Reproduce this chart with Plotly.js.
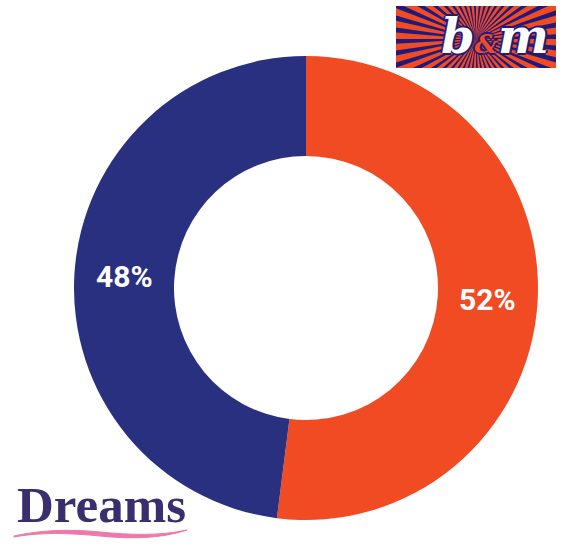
<!DOCTYPE html>
<html>
<head>
<meta charset="utf-8">
<script src="https://cdn.plot.ly/plotly-3.0.1.min.js"></script>
<style>html,body{margin:0;padding:0;background:#fff;}#chart{width:566px;height:545px;}</style>
</head>
<body>
<div id="chart"></div>
<script>
// Data
const brands = ['B&M', 'Dreams'];
const shares = [52, 48];
const colors = ['#F04B23', '#2A3080'];

const W = 566, H = 545;
// Pie geometry (pixel frame used by hidden full-page axis)
const pieCx = 306, pieCy = 288, outerR = 232, holeFrac = 0.569;

// Decoration: b&m logo rays (x2/y2 coords, clipped to logo box)
const rayShapes = [];
const nRays = 44;
const cx = 80, cy = 33, R = 240;
for (let i = 0; i < nRays; i++) {
  const a0 = (i / nRays) * 2 * Math.PI;
  const a1 = a0 + (Math.PI / nRays) * 1.15;
  const p = `M ${cx} ${cy} L ${cx + R * Math.cos(a0)} ${cy + R * Math.sin(a0)} L ${cx + R * Math.cos(a1)} ${cy + R * Math.sin(a1)} Z`;
  rayShapes.push({type: 'path', xref: 'x2', yref: 'y2', path: p, fillcolor: '#F04B23', line: {width: 0}, layer: 'above'});
}

// Percent labels placed at each slice's mid-angle, mid-ring
const total = shares.reduce((a, b) => a + b, 0);
const midR = outerR * (1 + holeFrac) / 2;
let cum = 0;
const labelAnns = shares.map((v) => {
  const mid = (cum + v / 2) / total * 2 * Math.PI;
  cum += v;
  return {
    xref: 'x', yref: 'y',
    x: pieCx + midR * Math.sin(mid),
    y: pieCy - midR * Math.cos(mid),
    text: '<b>' + Math.round(v / total * 100) + '%</b>',
    showarrow: false, xanchor: 'center', yanchor: 'middle',
    font: {family: 'Roboto', size: 30, color: '#ffffff'}
  };
});

const data = [
  {
    type: 'pie',
    labels: brands,
    values: shares,
    sort: false,
    direction: 'clockwise',
    rotation: 0,
    hole: holeFrac,
    marker: {colors: colors, line: {width: 0}},
    textinfo: 'none',
    domain: {x: [(pieCx - outerR) / W, (pieCx + outerR) / W], y: [(H - pieCy - outerR) / H, (H - pieCy + outerR) / H]},
    showlegend: false,
    hoverinfo: 'label+percent'
  },
  {type: 'scatter', x: [], y: [], xaxis: 'x', yaxis: 'y', showlegend: false, hoverinfo: 'skip'},
  {type: 'scatter', x: [], y: [], xaxis: 'x2', yaxis: 'y2', showlegend: false, hoverinfo: 'skip'}
];

const layout = {
  width: W, height: H,
  margin: {l: 0, r: 0, t: 0, b: 0, pad: 0},
  paper_bgcolor: '#ffffff',
  plot_bgcolor: 'rgba(0,0,0,0)',
  showlegend: false,
  xaxis: {domain: [0, 1], range: [0, W], visible: false, fixedrange: true},
  yaxis: {domain: [0, 1], range: [H, 0], visible: false, fixedrange: true},
  xaxis2: {domain: [396 / W, 556 / W], range: [0, 160], visible: false, anchor: 'y2', fixedrange: true},
  yaxis2: {domain: [(H - 68) / H, (H - 6) / H], range: [62, 0], visible: false, anchor: 'x2', fixedrange: true},
  shapes: [
    {type: 'rect', xref: 'x2', yref: 'y2', x0: 0, x1: 160, y0: 0, y1: 62, fillcolor: '#1E1B7C', line: {width: 0}, layer: 'above'},
    ...rayShapes,
    {type: 'path', xref: 'x', yref: 'y',
     path: 'M 14 536 C 40 530, 70 529, 100 532 C 130 535, 160 536, 187 530 C 160 539, 130 539, 100 536 C 70 533, 40 532, 14 537 Z',
     fillcolor: '#EE78A9', line: {color: '#EE78A9', width: 1}, layer: 'above'}
  ],
  annotations: [
    ...labelAnns,
    {
      xref: 'x2', yref: 'y2', x: 99, y: 30, xanchor: 'center', yanchor: 'middle',
      text: "<b><i>b<span style='font-size:26px;color:#F04B23'>&amp;</span>m</i></b>",
      showarrow: false,
      font: {family: 'DejaVu Serif', size: 48, color: '#ffffff',
             shadow: '2px 0 0 #1E1B7C, -2px 0 0 #1E1B7C, 0 2px 0 #1E1B7C, 0 -2px 0 #1E1B7C'}
    },
    {
      xref: 'x', yref: 'y', x: 15, y: 505, xanchor: 'left', yanchor: 'middle',
      text: '<b>Dreams</b>',
      showarrow: false,
      font: {family: 'Liberation Serif', size: 51, color: '#3A2E6E'}
    }
  ]
};

Plotly.newPlot('chart', data, layout, {displayModeBar: false, staticPlot: true});
</script>
</body>
</html>
